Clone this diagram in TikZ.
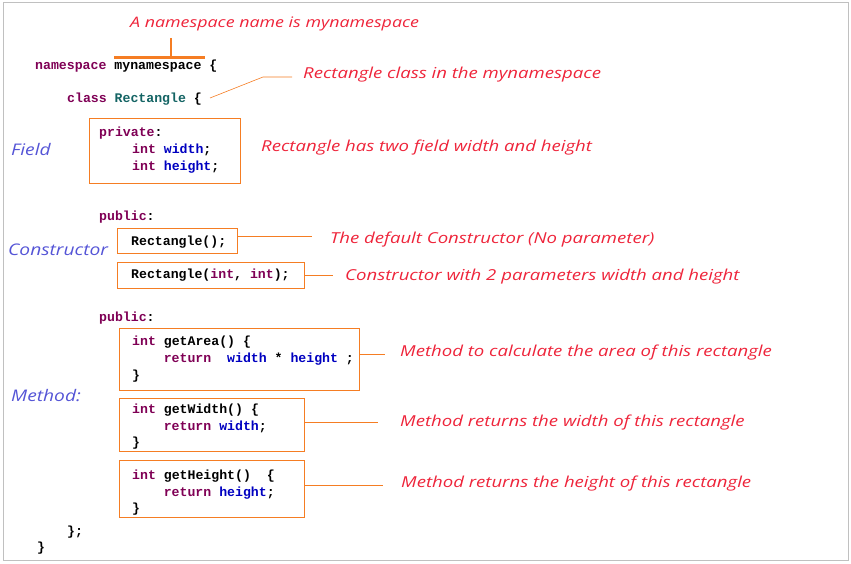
\documentclass[tikz,border=0pt]{standalone}
\usepackage{fontspec}
\setmonofont{Liberation Mono}
\newfontfamily\handfont[FakeStretch=1.23]{Open Sans}
\newfontfamily\lblfont[FakeStretch=1.2]{Open Sans}
\definecolor{annred}{RGB}{238,36,58}
\definecolor{lblblue}{RGB}{84,84,214}
\definecolor{orng}{RGB}{245,125,35}
\definecolor{kwc}{RGB}{127,0,85}
\definecolor{idc}{RGB}{0,0,192}
\definecolor{tealc}{RGB}{20,100,100}
\definecolor{framec}{RGB}{192,192,192}
\newcommand{\kw}[1]{\textcolor{kwc}{#1}}
\newcommand{\idn}[1]{\textcolor{idc}{#1}}
\begin{document}
\begin{tikzpicture}[x=1pt,y=-1pt,
  code/.style={anchor=base west,inner sep=0pt,font=\ttfamily\bfseries\fontsize{13.2}{15}\selectfont,text=black},
  ann/.style={anchor=base west,inner sep=0pt,font=\handfont\itshape\fontsize{15.1}{18}\selectfont,text=annred},
  lbl/.style={anchor=base west,inner sep=0pt,font=\lblfont\itshape\fontsize{16}{19}\selectfont,text=lblblue},
  obox/.style={draw=orng,line width=0.9pt,anchor=north west,inner sep=0pt},
  conn/.style={draw=orng,line width=0.8pt},
  brk/.style={draw=orng,line width=2.6pt}]
\useasboundingbox (0,0) rectangle (851,564);
\draw[framec,line width=1pt] (3,3) rectangle (848,560);

% title annotation and bracket
\node[ann,font=\handfont\itshape\fontsize{14.5}{18}\selectfont] (tns) at (130,28) {A namespace name is mynamespace};
\coordinate (bl) at (114,57.5);
\coordinate (br) at (205,57.5);
\coordinate (bm) at (171,57.5);
\coordinate (bt) at (171,38);
\draw[brk] (bl) -- (br);
\draw[brk] (bt) -- (bm);

% namespace and class lines
\node[code] (ns) at (35,69.5) {\kw{namespace} mynamespace \{};
\node[code] (cls) at (67,103) {\kw{class} \textcolor{tealc}{Rectangle} \{};
\coordinate (c1) at (210,98);
\coordinate (c2) at (263,77);
\coordinate (c3) at (292,77);
\draw[conn,line width=0.6pt] (c1) -- (c2) -- (c3);
\node[ann] (tcls) at (303,79) {Rectangle class in the mynamespace};

% field
\node[lbl] (lfield) at (11,156) {Field};
\node[obox,minimum width=151,minimum height=65] (fbox) at (89,118) {};
\node[code] (f1) at (99,137) {\kw{private}:};
\node[code] (f2) at (132,154) {\kw{int} \idn{width};};
\node[code] (f3) at (132,171) {\kw{int} \idn{height};};
\node[ann] (tfield) at (261,152) {Rectangle has two field width and height};

% constructors
\node[code] (pub1) at (99,220) {\kw{public}:};
\node[lbl] (lctor) at (8,255) {Constructor};
\node[obox,minimum width=120,minimum height=25] (c0box) at (117,228) {};
\node[code] (c0) at (131,245) {Rectangle();};
\coordinate (e0) at (312,236);
\draw[conn] (c0box.east |- e0) -- (e0);
\node[ann] (tc0) at (330,243) {The default Constructor (No parameter)};

\node[obox,minimum width=187,minimum height=26] (c1box) at (117,262) {};
\node[code] (c1t) at (131,278) {Rectangle(\kw{int}, \kw{int});};
\coordinate (e1) at (333,275);
\draw[conn] (c1box.east |- e1) -- (e1);
\node[ann] (tc1) at (345,280) {Constructor with 2 parameters width and height};

% methods
\node[code] (pub2) at (99,321) {\kw{public}:};
\node[lbl] (lmeth) at (11,401) {Method:};

\node[obox,minimum width=240,minimum height=62] (m1box) at (119,328) {};
\node[code] (m1a) at (132,345) {\kw{int} getArea() \{};
\node[code] (m1b) at (163.6,362) {\kw{return}~\ \idn{width} * \idn{height} ;};
\node[code] (m1c) at (132,379) {\}};
\coordinate (e2) at (385,354);
\draw[conn] (m1box.east |- e2) -- (e2);
\node[ann] (tm1) at (400,356) {Method to calculate the area of this rectangle};

\node[obox,minimum width=185,minimum height=53] (m2box) at (119,398) {};
\node[code] (m2a) at (132,413) {\kw{int} getWidth() \{};
\node[code] (m2b) at (163.6,430) {\kw{return} \idn{width};};
\node[code] (m2c) at (132,446.5) {\}};
\coordinate (e3) at (378,422);
\draw[conn] (m2box.east |- e3) -- (e3);
\node[ann] (tm2) at (400,426) {Method returns the width of this rectangle};

\node[obox,minimum width=185,minimum height=57] (m3box) at (119,460) {};
\node[code] (m3a) at (132,479) {\kw{int} getHeight()~\ \{};
\node[code] (m3b) at (163.6,496) {\kw{return} \idn{height};};
\node[code] (m3c) at (132,512.5) {\}};
\coordinate (e4) at (383,485);
\draw[conn] (m3box.east |- e4) -- (e4);
\node[ann] (tm3) at (401,487) {Method returns the height of this rectangle};

% closing
\node[code] (cl1) at (67,535) {\};};
\node[code] (cl2) at (37,551) {\}};
\end{tikzpicture}
\end{document}
